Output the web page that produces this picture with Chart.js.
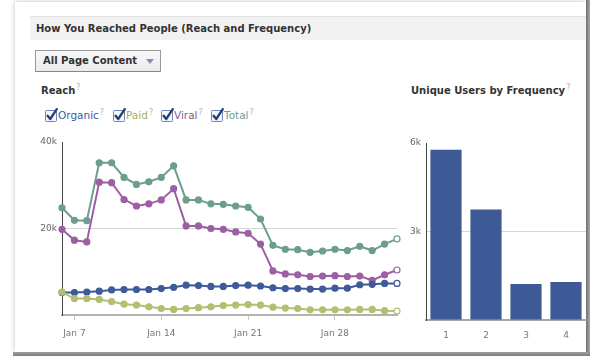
<!DOCTYPE html>
<html><head><meta charset="utf-8">
<script src="https://cdn.jsdelivr.net/npm/chart.js@4.4.1/dist/chart.umd.min.js"></script>
<style>
html,body{margin:0;padding:0;background:#fff;}
body{width:590px;height:356px;position:relative;overflow:hidden;font-family:"DejaVu Sans",sans-serif;color:#333;}
.card{position:absolute;left:15px;top:2px;width:571px;height:350px;background:#fff;box-shadow:-1px -1px 4px rgba(0,0,0,0.18);}
.rshadow{position:absolute;left:586px;top:0;width:4px;height:356px;background:linear-gradient(to right,#707070,#a8a8a8);}
.bshadow{position:absolute;left:13px;top:352px;width:577px;height:4px;background:linear-gradient(#a0a0a0,#7c7c7c);}
.hdr{position:absolute;left:30px;top:16px;width:556px;height:24px;background:#f2f2f2;border-top:1px solid #e2e2e2;box-sizing:border-box;}
.hdr span{position:absolute;left:6px;top:0;line-height:23px;font-weight:bold;font-size:10px;color:#333;white-space:nowrap;}
.btn{position:absolute;left:35px;top:50px;width:126px;height:22px;box-sizing:border-box;border:1px solid #9a9a9a;border-bottom-color:#888;background:linear-gradient(#f8f8f8,#ebebeb);}
.btn span{position:absolute;left:7px;top:0;line-height:20px;font-weight:bold;font-size:10px;color:#333;white-space:nowrap;}
.btn i{position:absolute;left:110px;top:8px;width:0;height:0;border-left:4px solid transparent;border-right:4px solid transparent;border-top:5px solid #8092b4;}
.title{position:absolute;font-weight:bold;font-size:10px;line-height:12px;color:#333;white-space:nowrap;}
sup{font-size:8px;color:#b0b0b0;font-weight:normal;vertical-align:top;position:relative;top:-3px;margin-left:1px;}
.leg{position:absolute;top:108px;height:14px;white-space:nowrap;font-size:10.5px;line-height:14px;}
.leg svg{position:absolute;left:0;top:0;}
.leg span{position:absolute;left:13px;top:0;}
.leg sup{top:-2px;}
#c1{position:absolute;left:30px;top:130px;}
#c2{position:absolute;left:400px;top:130px;}
</style></head>
<body>
<div class="card"></div>
<div class="rshadow"></div>
<div class="bshadow"></div>
<div class="hdr"><span>How You Reached People (Reach and Frequency)</span></div>
<div class="btn"><span>All Page Content</span><i></i></div>
<div class="title" style="left:41px;top:85px;">Reach<sup>?</sup></div>
<div class="title" style="left:411px;top:85px;">Unique Users by Frequency<sup>?</sup></div>
<div id="legend"></div>
<canvas id="c1" width="375" height="215"></canvas>
<canvas id="c2" width="190" height="215"></canvas>
<script>
// ---- data ----
const dates = ['Jan 6','Jan 7','Jan 8','Jan 9','Jan 10','Jan 11','Jan 12','Jan 13','Jan 14','Jan 15','Jan 16','Jan 17','Jan 18','Jan 19','Jan 20','Jan 21','Jan 22','Jan 23','Jan 24','Jan 25','Jan 26','Jan 27','Jan 28','Jan 29','Jan 30','Jan 31','Feb 1','Feb 2'];
const dateTickLabels = ['Jan 7','Jan 14','Jan 21','Jan 28'];
const organic = [5200,5200,5300,5500,5800,5900,5900,5900,6100,6400,6900,6800,6600,6600,6800,6900,6700,6300,6100,6100,6000,6000,6200,6200,7000,7100,7300,7300];
const paid    = [5300,3800,3800,3600,3100,2500,2300,1900,1500,1300,1500,1700,1900,2200,2300,2400,2300,1800,1600,1500,1200,1200,1200,1200,1300,1300,1000,900];
const viral   = [19800,17300,16900,30700,30600,26700,25200,25700,26600,29200,20600,20600,20000,19800,19200,18900,16400,10200,9500,9300,8900,9000,9100,8900,9000,8000,9300,10400];
const total   = [24800,21900,21800,35200,35200,31800,30200,30800,31800,34500,26600,26600,25700,25600,25200,24900,22200,16100,15200,15100,14500,14800,15200,14900,15900,14900,16400,17600];
const reachTickValues = [0,20000,40000];
const reachTickText   = ['','20k','40k'];

const freqLabels = ['1','2','3','4'];
const uniqueUsers = [5770,3750,1220,1290];
const freqTickValues = [0,3000,6000];
const freqTickText   = ['','3k','6k'];

const seriesNames = ['Organic','Paid','Viral','Total'];
const colors = {Organic:'#3e5b99', Paid:'#b4be70', Viral:'#9d5fa4', Total:'#6c9e8e'};
const legendText = {Organic:'#3e5b99', Paid:'#a9ad62', Viral:'#8a5a93', Total:'#6c9e8e'};
const legendX = [45,113,161,211];

// ---- legend (html) ----
const legEl = document.getElementById('legend');
seriesNames.forEach((n,i)=>{
  const d = document.createElement('div');
  d.className='leg';
  d.style.left = legendX[i]+'px';
  d.innerHTML = '<svg width="13" height="14" viewBox="0 0 13 14"><rect x="0.5" y="2.5" width="11" height="11" rx="1" fill="#f4f7fc" stroke="#6d88b8"/><path d="M2.6 7.8 L5.2 11 L11.8 1.2" fill="none" stroke="#233f7a" stroke-width="2.3" stroke-linecap="round" stroke-linejoin="round"/></svg>'
    + '<span style="color:'+legendText[n]+'">'+n+'<sup>?</sup></span>';
  legEl.appendChild(d);
});

const tickFont = {family:'"DejaVu Sans", sans-serif', size:9};
const clear = 'rgba(0,0,0,0)';

function ds(name, data, order){
  const c = colors[name];
  return {
    label:name, data:data, order:order,
    borderColor:c, backgroundColor:c, borderWidth:2, tension:0,
    pointRadius:3, pointBorderWidth:1.2, pointBorderColor:c,
    pointBackgroundColor: ctx => ctx.dataIndex === data.length-1 ? '#ffffff' : c
  };
}

new Chart(document.getElementById('c1'), {
  type:'line',
  data:{labels:dates, datasets:[
    ds('Organic', organic, 1),
    ds('Paid', paid, 0),
    ds('Viral', viral, 2),
    ds('Total', total, 3)
  ]},
  options:{
    responsive:false, animation:false, devicePixelRatio:1,
    layout:{padding:{top:12,right:7,left:0,bottom:0}},
    plugins:{legend:{display:false}, tooltip:{enabled:false}},
    scales:{
      x:{
        offset:false,
        grid:{drawOnChartArea:false, drawTicks:true, tickLength:5, tickWidth:1,
              tickColor: c => (c.tick && dateTickLabels.includes(dates[c.index])) ? '#c4c4c4' : clear},
        border:{color:'#b2b2b2', width:2},
        ticks:{autoSkip:false, maxRotation:0, minRotation:0, padding:8, color:'#777', font:tickFont,
          callback:function(v){ const l=this.getLabelForValue(v); return dateTickLabels.includes(l)? l : ''; }},
        afterFit: s => { s.height = 30; }
      },
      y:{
        min:0, max:40000,
        ticks:{stepSize:20000, padding:5, color:'#666', font:tickFont,
          callback: v => { const i = reachTickValues.indexOf(v); return i>=0 ? reachTickText[i] : ''; }},
        grid:{drawTicks:false, color: c => (c.tick && c.tick.value===20000) ? '#d6d6d6' : clear},
        border:{color:'#444', width:1},
        afterFit: s => { s.width = 32; }
      }
    }
  }
});

new Chart(document.getElementById('c2'), {
  type:'bar',
  data:{labels:freqLabels, datasets:[{data:uniqueUsers, backgroundColor:'#3d5a96', categoryPercentage:0.78, barPercentage:1}]},
  options:{
    responsive:false, animation:false, devicePixelRatio:1,
    layout:{padding:{top:13,right:4,left:0,bottom:0}},
    plugins:{legend:{display:false}, tooltip:{enabled:false}},
    scales:{
      x:{
        grid:{drawOnChartArea:false, drawTicks:false},
        border:{color:'#a4a5ad', width:2},
        ticks:{padding:10, color:'#777', font:tickFont},
        afterFit: s => { s.height = 25; }
      },
      y:{
        min:0, max:6000,
        ticks:{stepSize:3000, padding:5, color:'#666', font:tickFont,
          callback: v => { const i = freqTickValues.indexOf(v); return i>=0 ? freqTickText[i] : ''; }},
        grid:{drawTicks:false, color: c => (c.tick && c.tick.value===3000) ? '#d6d6d6' : clear},
        border:{color:'#444', width:1},
        afterFit: s => { s.width = 26; }
      }
    }
  }
});
</script>
</body></html>
